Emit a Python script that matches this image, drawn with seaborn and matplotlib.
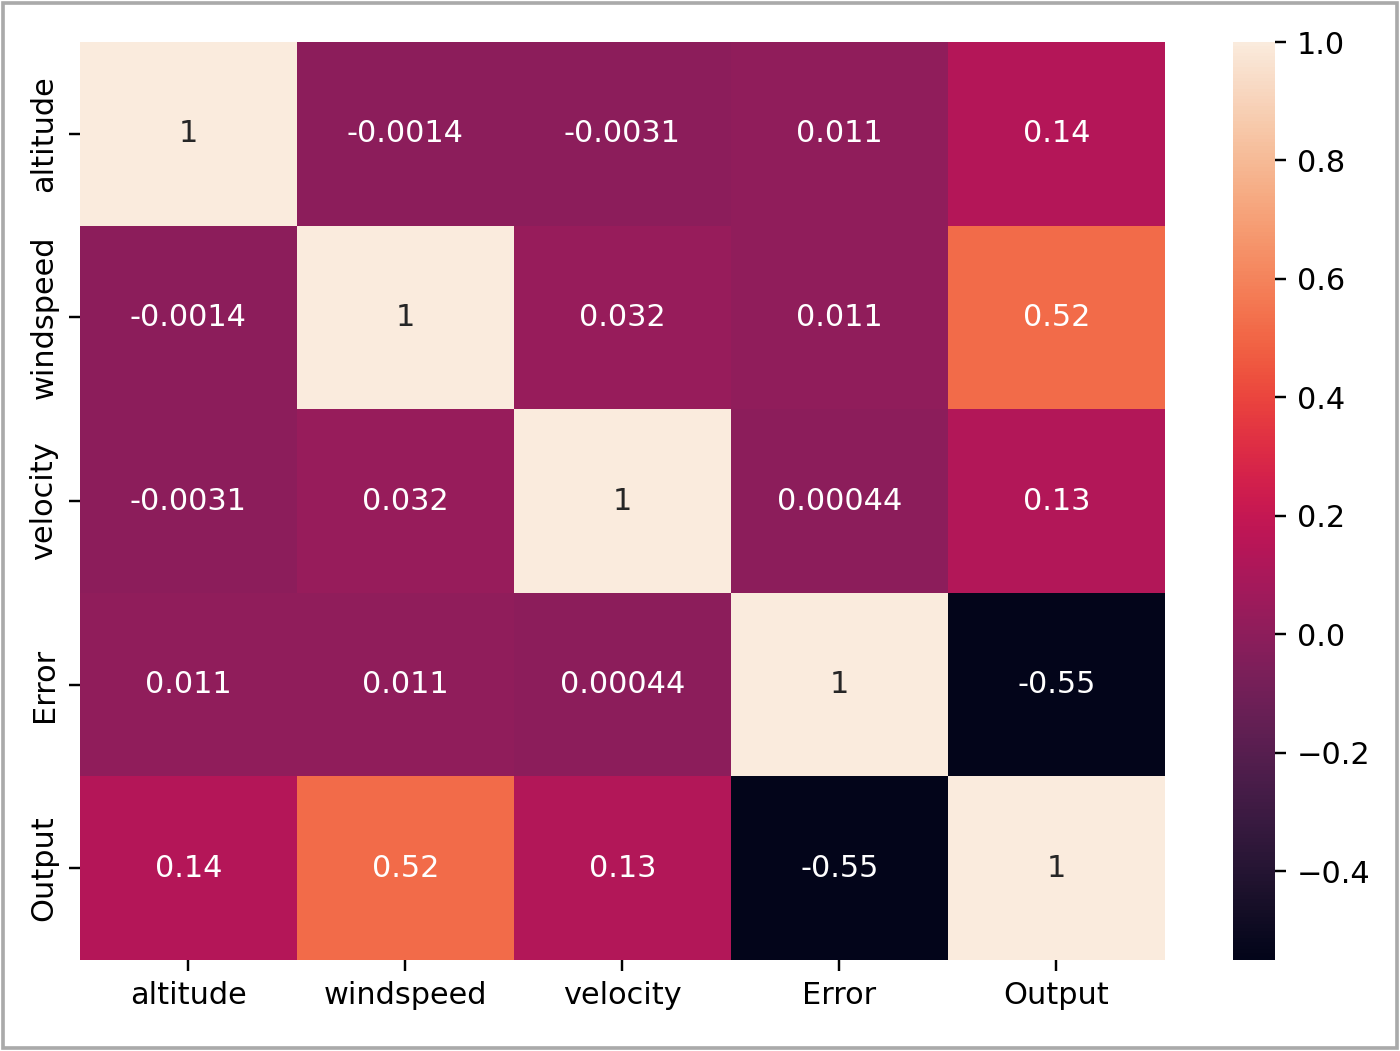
import matplotlib
matplotlib.use("Agg")
import matplotlib.pyplot as plt
import seaborn as sns
import numpy as np
import pandas as pd
from matplotlib.patches import Rectangle

labels = ["altitude", "windspeed", "velocity", "Error", "Output"]
row_altitude = [1, -0.0014, -0.0031, 0.011, 0.14]
row_windspeed = [-0.0014, 1, 0.032, 0.011, 0.52]
row_velocity = [-0.0031, 0.032, 1, 0.00044, 0.13]
row_error = [0.011, 0.011, 0.00044, 1, -0.55]
row_output = [0.14, 0.52, 0.13, -0.55, 1]

corr = pd.DataFrame([row_altitude, row_windspeed, row_velocity, row_error, row_output],
                    index=labels, columns=labels)

fig = plt.figure(figsize=(6.4, 4.805), dpi=218.75)
ax = fig.add_axes([0.057, 0.0866, 0.775, 0.8734])
cax = fig.add_axes([0.881, 0.0866, 0.030, 0.8734])
sns.heatmap(corr, annot=True, ax=ax, cbar_ax=cax, cmap="rocket")
ax.tick_params(axis="both", labelsize=10)
cax.tick_params(labelsize=10)

fig.patches.append(Rectangle((0.002, 0.003), 0.996, 0.994, transform=fig.transFigure,
                             fill=False, edgecolor="#aaaaaa", linewidth=1.2))
fig.savefig("out.png", dpi=218.75)
